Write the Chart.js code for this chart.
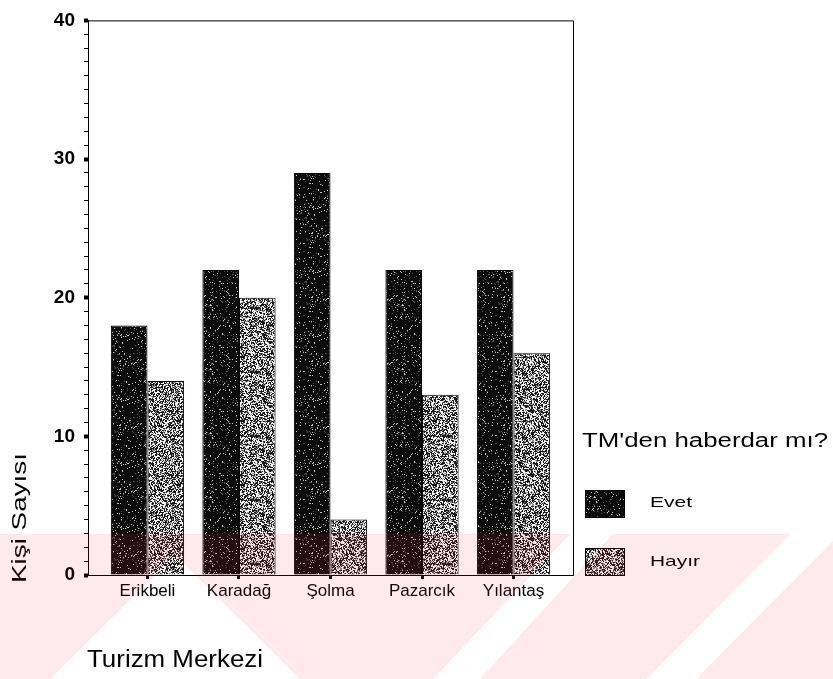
<!DOCTYPE html>
<html><head><meta charset="utf-8">
<script src="https://cdn.jsdelivr.net/npm/chart.js@4/dist/chart.umd.min.js"></script>
<style>html,body{margin:0;padding:0;background:#fff}#wrap{width:833px;height:679px;position:relative}</style>
</head><body><div id="wrap"><canvas id="c" width="833" height="679"></canvas></div>
<script>
const categories = ['Erikbeli', 'Karadağ', 'Şolma', 'Pazarcık', 'Yılantaş'];
const evetValues = [18, 22, 29, 22, 22];
const hayirValues = [14, 20, 4, 13, 16];
const seriesLabels = ['Evet', 'Hayır'];
const yTickLabels = [0, 10, 20, 30, 40];
const legendTitle = "TM'den haberdar mı?";
const xTitle = 'Turizm Merkezi';
const yTitle = 'Kişi Sayısı';

// deterministic dither texture (hash based), imitating the scanned halftone fill
function makeTexture(seed, levels) {
  const w = 64, h = 64;
  const cv = document.createElement('canvas'); cv.width = w; cv.height = h;
  const cx = cv.getContext('2d'); const img = cx.createImageData(w, h);
  let s = seed >>> 0;
  for (let i = 0; i < w * h; i++) {
    s = (Math.imul(s, 1664525) + 1013904223) >>> 0;
    const r = s / 4294967296;
    let v = levels[levels.length - 1][1];
    for (const [p, val] of levels) { if (r < p) { v = val; break; } }
    img.data[i * 4] = v; img.data[i * 4 + 1] = v; img.data[i * 4 + 2] = v; img.data[i * 4 + 3] = 255;
  }
  cx.putImageData(img, 0, 0);
  return cx.createPattern(cv, 'repeat');
}
const ctx = document.getElementById('c').getContext('2d');
const patEvet = makeTexture(12345, [[0.05, 200], [0.11, 90], [1, 12]]);
const patHayir = makeTexture(98765, [[0.40, 245], [0.56, 140], [1, 25]]);
const fills = [patEvet, patHayir];

const BASE_FONT = 'Liberation Sans, Arial, sans-serif';

function fitText(c, text, x, y, font, width, rot) {
  c.save();
  c.font = font;
  c.translate(x, y);
  if (rot) c.rotate(rot);
  const w = c.measureText(text).width;
  c.scale(width / w, 1);
  c.textAlign = 'left';
  c.textBaseline = 'alphabetic';
  c.fillStyle = '#000';
  c.fillText(text, 0, 0);
  c.restore();
}

const decor = {
  id: 'decor',
  afterDraw(chart) {
    const c = chart.ctx;
    const a = chart.chartArea;
    c.save();
    c.strokeStyle = '#000'; c.lineWidth = 1;
    c.beginPath();
    c.moveTo(a.left, a.top + 0.5); c.lineTo(a.right + 0.5, a.top + 0.5); c.lineTo(a.right + 0.5, a.bottom);
    c.stroke();
    c.restore();
    fitText(c, yTitle, 26, 583, '21px ' + BASE_FONT, 130, -Math.PI / 2);
    fitText(c, xTitle, 87, 667, '23px ' + BASE_FONT, 176);
    fitText(c, legendTitle, 582, 447, '20px ' + BASE_FONT, 246);
    const boxes = [[585, 490], [585, 548]];
    const lw = [42, 50];
    const ly = [507, 566];
    chart.data.datasets.forEach((ds, i) => {
      c.save();
      c.fillStyle = ds.backgroundColor;
      c.fillRect(boxes[i][0], boxes[i][1], 40, 28);
      c.strokeStyle = '#000'; c.lineWidth = 1;
      c.strokeRect(boxes[i][0] + 0.5, boxes[i][1] + 0.5, 39, 27);
      c.restore();
      fitText(c, ds.label, 650, ly[i], '15px ' + BASE_FONT, lw[i]);
    });
    // scanned-page watermark band
    const off = document.createElement('canvas'); off.width = 833; off.height = 679;
    const o = off.getContext('2d');
    o.fillStyle = 'rgb(240,40,80)';
    o.fillRect(0, 534, 833, 145);
    o.globalCompositeOperation = 'destination-out';
    const polys = [
      [[175, 555], [300, 679], [50, 679]],
      [[570, 534], [613, 534], [480, 679], [433, 679]],
      [[790, 534], [840, 534], [696, 679], [646, 679]]
    ];
    polys.forEach(p => { o.beginPath(); o.moveTo(p[0][0], p[0][1]); p.slice(1).forEach(q => o.lineTo(q[0], q[1])); o.closePath(); o.fill(); });
    c.save();
    c.globalAlpha = 0.1;
    c.drawImage(off, 0, 0);
    c.restore();
  }
};

new Chart(ctx, {
  type: 'bar',
  data: {
    datasets: [
      { label: seriesLabels[0], data: evetValues.map((v, i) => ({ x: i, y: v })), backgroundColor: fills[0], borderColor: '#000', borderWidth: 1 },
      { label: seriesLabels[1], data: hayirValues.map((v, i) => ({ x: i, y: v })), backgroundColor: fills[1], borderColor: '#000', borderWidth: 1 }
    ]
  },
  options: {
    responsive: false,
    animation: false,
    devicePixelRatio: 1,
    layout: { padding: { top: 10, right: 260, left: 0, bottom: 0 } },
    datasets: { bar: { categoryPercentage: 0.8, barPercentage: 1.0 } },
    plugins: { legend: { display: false }, tooltip: { enabled: false } },
    scales: {
      x: {
        type: 'linear', min: -0.65, max: 4.65, offset: false,
        afterBuildTicks(s) { s.ticks = categories.map((c, i) => ({ value: i })); },
        afterFit(s) { s.height = 104; },
        ticks: { autoSkip: false, maxRotation: 0, padding: 2, color: '#000',
          callback: (v) => categories[v] ?? '',
          font: { family: BASE_FONT, size: 17 } },
        grid: { offset: false, drawOnChartArea: false, tickLength: 4, tickWidth: 3, tickColor: '#000' },
        border: { display: true, color: '#000', width: 1 }
      },
      y: {
        min: 0, max: 40,
        afterBuildTicks(s) { const t = []; for (let v = 0; v <= 40; v++) t.push({ value: v }); s.ticks = t; },
        afterFit(s) { s.width = 88; },
        ticks: { autoSkip: false, padding: 9, color: '#000',
          callback: (v) => yTickLabels.includes(v) ? String(v) : '',
          font: { family: BASE_FONT, size: 19, weight: 'bold' } },
        grid: { drawOnChartArea: false, tickLength: 4, tickColor: '#000',
          tickWidth: (c) => (c.tick && yTickLabels.includes(c.tick.value)) ? 4 : 1 },
        border: { display: true, color: '#000', width: 1 }
      }
    }
  },
  plugins: [decor]
});
</script></body></html>
